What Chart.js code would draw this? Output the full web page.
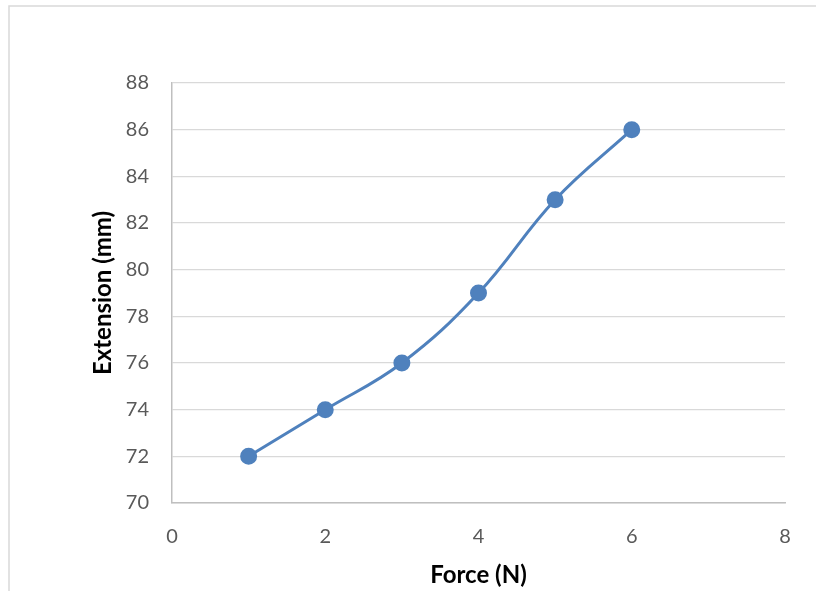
<!DOCTYPE html>
<html>
<head>
<meta charset="utf-8">
<script src="https://cdn.jsdelivr.net/npm/chart.js@4/dist/chart.umd.min.js"></script>
<style>
  html, body { margin: 0; padding: 0; background: #fff; }
  #wrap { width: 816px; height: 591px; }
</style>
</head>
<body>
<div id="wrap"><canvas id="chart" width="816" height="591"></canvas></div>
<script>
const forceN = [1, 2, 3, 4, 5, 6];
const extensionMm = [72, 74, 76, 79, 83, 86];
const xTicks = [0, 2, 4, 6, 8];
const yTicks = [70, 72, 74, 76, 78, 80, 82, 84, 86, 88];

// cadre gris clair autour du graphique
const frame = {
    id: 'frame',
    beforeDraw(chart) {
        const ctx = chart.ctx;
        ctx.save();
        ctx.fillStyle = '#fff';
        ctx.fillRect(0, 0, chart.width, chart.height);
        ctx.strokeStyle = '#d9d9d9';
        ctx.lineWidth = 1.5;
        ctx.beginPath();
        ctx.moveTo(9, chart.height);
        ctx.lineTo(9, 6);
        ctx.lineTo(chart.width, 6);
        ctx.stroke();
        ctx.restore();
    }
};

const tickFont = { family: 'Lato', size: 20 };
const titleFont = { family: 'Lato', size: 24, weight: 'bold' };

new Chart(document.getElementById('chart'), {
    type: 'scatter',
    data: {
        datasets: [{
            data: forceN.map((f, i) => ({ x: f, y: extensionMm[i] })),
            showLine: true,
            tension: 0.4,
            borderColor: '#4f81bd',
            backgroundColor: '#4f81bd',
            borderWidth: 3,
            pointRadius: 7,
            pointHoverRadius: 7
        }]
    },
    options: {
        responsive: false,
        animation: false,
        layout: { padding: { top: 83, right: 31, left: 0, bottom: 0 } },
        plugins: { legend: { display: false }, tooltip: { enabled: false } },
        scales: {
            x: {
                type: 'linear',
                min: 0, max: 8,
                afterBuildTicks: s => { s.ticks = xTicks.map(v => ({ value: v })); },
                afterFit: s => { s.height = 88; },
                grid: { display: false },
                border: { color: '#bfbfbf', width: 1.5 },
                ticks: { color: '#595959', font: tickFont, padding: 14 },
                title: { display: true, text: 'Force (N)', color: '#000', font: titleFont, padding: { top: 0, bottom: 1 } }
            },
            y: {
                min: 70, max: 88,
                afterBuildTicks: s => { s.ticks = yTicks.map(v => ({ value: v })); },
                afterFit: s => { s.width = 172; },
                grid: { color: '#d9d9d9', lineWidth: 1.3, drawTicks: false },
                border: { color: '#bfbfbf', width: 1.5 },
                ticks: { color: '#595959', font: tickFont, padding: 23 },
                title: { display: true, text: 'Extension (mm)', color: '#000', font: titleFont, padding: { top: 89, bottom: 0 } }
            }
        }
    },
    plugins: [frame]
});
</script>
</body>
</html>
